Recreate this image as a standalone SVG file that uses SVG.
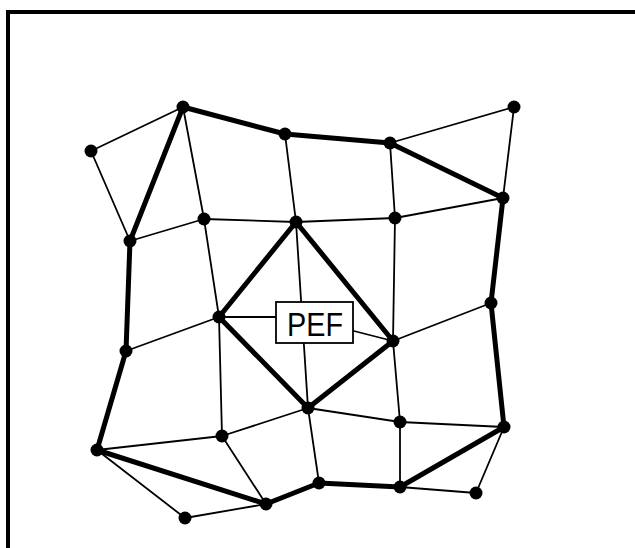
<svg xmlns="http://www.w3.org/2000/svg" width="635" height="548" viewBox="0 0 635 548">
<style>
.frame{fill:none;stroke:#000;stroke-width:4}
.thin{stroke:#000;stroke-width:1.8;stroke-linecap:round;fill:none}
.thick{stroke:#000;stroke-width:5;stroke-linecap:round;stroke-linejoin:round;fill:none}
.node{fill:#000}
.box{fill:#fff;stroke:#000;stroke-width:1.8}
.lbl{font-family:"Liberation Sans",Arial,sans-serif;font-size:34px;fill:#000}
</style>
<rect width="635" height="548" fill="#fff"/>
<path class="frame" d="M8,548 V12 H635"/>
<g id="connectors">
<g class="thin">
<line x1="91" y1="151" x2="183" y2="107"/>
<line x1="91" y1="151" x2="130" y2="241"/>
<line x1="183" y1="107" x2="204" y2="219"/>
<line x1="285" y1="134" x2="296" y2="222"/>
<line x1="390" y1="143" x2="514" y2="107"/>
<line x1="514" y1="107" x2="503" y2="198"/>
<line x1="390" y1="143" x2="395" y2="218"/>
<line x1="130" y1="241" x2="204" y2="219"/>
<line x1="204" y1="219" x2="296" y2="222"/>
<line x1="296" y1="222" x2="395" y2="218"/>
<line x1="395" y1="218" x2="503" y2="198"/>
<line x1="204" y1="219" x2="219" y2="317"/>
<line x1="296" y1="222" x2="308" y2="408"/>
<line x1="395" y1="218" x2="393" y2="341"/>
<line x1="219" y1="317" x2="280" y2="317"/>
<line x1="350" y1="330" x2="393" y2="341"/>
<line x1="219" y1="317" x2="126" y2="351"/>
<line x1="393" y1="341" x2="491" y2="303"/>
<line x1="219" y1="317" x2="222" y2="436"/>
<line x1="393" y1="341" x2="400" y2="422"/>
<line x1="308" y1="408" x2="222" y2="436"/>
<line x1="308" y1="408" x2="400" y2="422"/>
<line x1="308" y1="408" x2="319" y2="483"/>
<line x1="400" y1="422" x2="504" y2="427"/>
<line x1="400" y1="422" x2="400" y2="487"/>
<line x1="97" y1="450" x2="222" y2="436"/>
<line x1="222" y1="436" x2="266" y2="504"/>
<line x1="97" y1="450" x2="185" y2="518"/>
<line x1="185" y1="518" x2="266" y2="504"/>
<line x1="400" y1="487" x2="476" y2="493"/>
<line x1="476" y1="493" x2="504" y2="427"/>
</g>
<g class="thick">
<polyline points="183,107 285,134 390,143 503,198 491,303 504,427 400,487 319,483 266,504 97,450 126,351 130,241 183,107"/>
<polygon points="296,222 393,341 308,408 219,317"/>
</g>
</g>
<g id="label-PEF">
<rect class="box" x="276" y="302" width="77" height="41"/>
<text class="lbl" x="315" y="336" text-anchor="middle" textLength="56" lengthAdjust="spacingAndGlyphs">PEF</text>
</g>
<g id="n1"><circle class="node" cx="91" cy="151" r="6.5"/></g>
<g id="n2"><circle class="node" cx="183" cy="107" r="6.5"/></g>
<g id="n3"><circle class="node" cx="285" cy="134" r="6.5"/></g>
<g id="n4"><circle class="node" cx="390" cy="143" r="6.5"/></g>
<g id="n5"><circle class="node" cx="514" cy="107" r="6.5"/></g>
<g id="n6"><circle class="node" cx="130" cy="241" r="6.5"/></g>
<g id="n7"><circle class="node" cx="204" cy="219" r="6.5"/></g>
<g id="n8"><circle class="node" cx="296" cy="222" r="6.5"/></g>
<g id="n9"><circle class="node" cx="395" cy="218" r="6.5"/></g>
<g id="n10"><circle class="node" cx="503" cy="198" r="6.5"/></g>
<g id="n11"><circle class="node" cx="219" cy="317" r="6.5"/></g>
<g id="n12"><circle class="node" cx="393" cy="341" r="6.5"/></g>
<g id="n13"><circle class="node" cx="491" cy="303" r="6.5"/></g>
<g id="n14"><circle class="node" cx="126" cy="351" r="6.5"/></g>
<g id="n15"><circle class="node" cx="308" cy="408" r="6.5"/></g>
<g id="n16"><circle class="node" cx="400" cy="422" r="6.5"/></g>
<g id="n17"><circle class="node" cx="222" cy="436" r="6.5"/></g>
<g id="n18"><circle class="node" cx="504" cy="427" r="6.5"/></g>
<g id="n19"><circle class="node" cx="97" cy="450" r="6.5"/></g>
<g id="n20"><circle class="node" cx="319" cy="483" r="6.5"/></g>
<g id="n21"><circle class="node" cx="400" cy="487" r="6.5"/></g>
<g id="n22"><circle class="node" cx="266" cy="504" r="6.5"/></g>
<g id="n23"><circle class="node" cx="185" cy="518" r="6.5"/></g>
<g id="n24"><circle class="node" cx="476" cy="493" r="6.5"/></g>
</svg>
